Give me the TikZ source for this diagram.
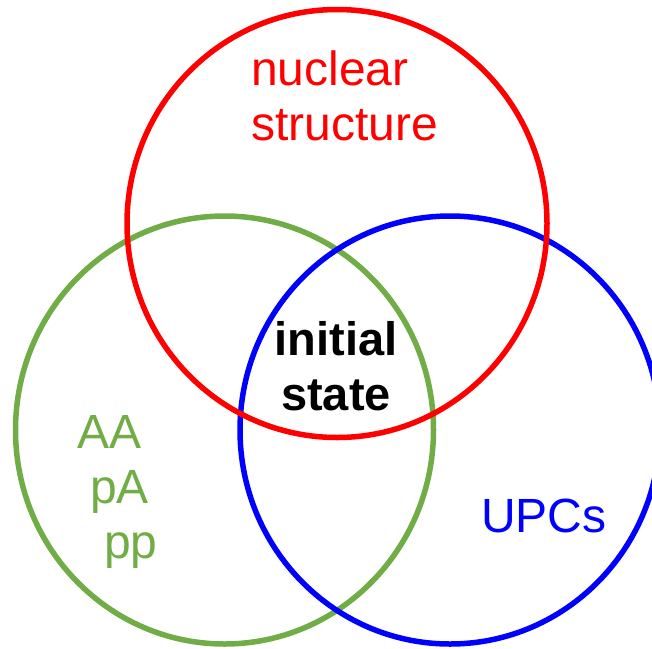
\documentclass[tikz,border=0pt]{standalone}
\usepackage{fontspec}
\setmainfont{Liberation Sans}
\definecolor{vred}{RGB}{255,0,0}
\definecolor{vgreen}{RGB}{112,173,71}
\definecolor{vblue}{RGB}{0,0,255}
\tikzset{
  ring/.style={line width=5.5pt},
  label/.style={inner sep=0pt, font=\fontsize{48}{55}\selectfont},
}
\begin{document}
\begin{tikzpicture}[x=1pt,y=-1pt]
  \useasboundingbox (0,0) rectangle (652,648);
  \clip (0,0) rectangle (652,648);
  % three overlapping sets
  \draw[ring, vgreen] (224.5,430) ellipse [x radius=209, y radius=214];
  \draw[ring, vblue]  (450,430)   ellipse [x radius=210, y radius=214];
  \draw[ring, vred]   (337,223.5) ellipse [x radius=210, y radius=214];
  % set labels (base anchor sits on the last line)
  \node[label, text=vred, align=left, anchor=base west] (nuc) at (251,140)
    {nuclear\\structure};
  \node[label, align=center, anchor=base, font=\fontsize{47}{55}\selectfont\bfseries] (ini) at (336,410)
    {initial\\state};
  \node[label, text=vgreen, align=left, anchor=base west] (sys) at (77,558)
    {AA\\\hspace*{13pt}pA\\\hspace*{27pt}pp};
  \node[label, text=vblue, anchor=base west] (upc) at (481,532) {UPCs};
\end{tikzpicture}
\end{document}
